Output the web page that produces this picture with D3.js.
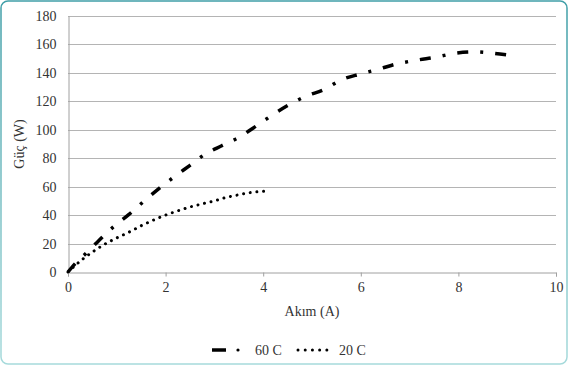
<!DOCTYPE html>
<html>
  <head>
    <meta charset="UTF-8" />
    <title>Güç - Akım</title>
    <script src="https://d3js.org/d3.v7.min.js"></script>
    <style>
      body {
        margin: 0;
        background-color: #fff;
      }
    </style>
  </head>
  <body>
    <div id="chart"></div>
    <script>
      // 60 C serisi (Akım A, Güç W)
      const akim60 = [0, 0.15, 0.35, 0.6, 0.93, 1.25, 1.54, 1.85, 2.16, 2.5, 2.81, 3.15, 3.52, 3.85, 4.19, 4.55, 4.88, 5.25, 5.59, 6.0, 6.37, 6.75, 7.15, 7.55, 7.93, 8.33, 8.72, 9.01];
      const guc60 = [0, 6, 12.5, 21, 31.7, 40.5, 49.3, 58.3, 66.5, 75, 82.8, 88.8, 95, 102.5, 110.4, 118, 123.7, 128.3, 135, 139.3, 142.7, 146.4, 149, 151.1, 153.8, 154.8, 153.8, 152.6];

      // 20 C serisi
      const akim20 = [0, 0.3, 0.5, 0.75, 1.0, 1.25, 1.5, 1.75, 2.0, 2.25, 2.5, 2.75, 3.0, 3.25, 3.5, 3.75, 4.04];
      const guc20 = [0, 9, 14, 19.5, 24, 28, 32.5, 36.5, 40, 43, 45.7, 47.9, 50, 52.5, 54.3, 55.9, 56.8];

      const xTicks = [0, 2, 4, 6, 8, 10];
      const yTicks = [0, 20, 40, 60, 80, 100, 120, 140, 160, 180];
      const seriesNames = ["60 C", "20 C"];

      const width = 568;
      const height = 365;
      const margin = { top: 16, right: 12, bottom: 93, left: 68 };
      const serif = "'Liberation Serif', monospace";

      const svg = d3
        .select("#chart")
        .append("svg")
        .attr("width", width)
        .attr("height", height);

      // kenarlık
      const grad = svg
        .append("defs")
        .append("linearGradient")
        .attr("id", "border")
        .attr("x1", 0)
        .attr("y1", 0)
        .attr("x2", 0)
        .attr("y2", 1);
      grad.append("stop").attr("offset", "0%").attr("stop-color", "#3f9ea7");
      grad.append("stop").attr("offset", "100%").attr("stop-color", "#a6dadb");

      svg
        .append("rect")
        .attr("x", 1)
        .attr("y", 1)
        .attr("width", width - 2)
        .attr("height", height - 2)
        .attr("rx", 7)
        .attr("fill", "#fff")
        .attr("stroke", "url(#border)")
        .attr("stroke-width", 1.5);

      const x = d3
        .scaleLinear()
        .domain([0, 10])
        .range([margin.left, 556]);
      const y = d3
        .scaleLinear()
        .domain([0, 180])
        .range([272, margin.top]);

      // yatay ızgara
      svg
        .append("g")
        .selectAll("line")
        .data(yTicks.filter((d) => d > 0))
        .enter()
        .append("line")
        .attr("x1", x(0))
        .attr("x2", x(10))
        .attr("y1", (d) => Math.round(y(d)) + 0.5)
        .attr("y2", (d) => Math.round(y(d)) + 0.5)
        .attr("stroke", "#b4b4b4")
        .attr("stroke-width", 1);

      // eksenler
      const xAxis = svg
        .append("g")
        .attr("transform", `translate(0,${Math.round(y(0)) + 0.5})`)
        .call(d3.axisBottom(x).tickValues(xTicks).tickSize(4).tickPadding(6));
      xAxis.select(".domain").attr("stroke", "#a0a0a0");
      xAxis.selectAll(".tick line").attr("stroke", "#a0a0a0");

      const yAxis = svg
        .append("g")
        .attr("transform", `translate(${x(0) + 0.5},0)`)
        .call(d3.axisLeft(y).tickValues(yTicks).tickSize(0).tickPadding(12));
      yAxis.select(".domain").attr("stroke", "#a0a0a0");

      // eksen başlıkları
      svg
        .append("text")
        .attr("x", 312)
        .attr("y", 316)
        .attr("text-anchor", "middle")
        .text("Akım (A)");

      svg
        .append("text")
        .attr("transform", `translate(24,${(y(0) + y(180)) / 2}) rotate(-90)`)
        .attr("text-anchor", "middle")
        .text("Güç (W)");

      // seriler
      const line = d3
        .line()
        .x((d) => x(d[0]))
        .y((d) => y(d[1]))
        .curve(d3.curveMonotoneX);

      const data60 = akim60.map((a, i) => [a, guc60[i]]);
      const data20 = akim20.map((a, i) => [a, guc20[i]]);

      svg
        .append("path")
        .datum(data20)
        .attr("d", line)
        .attr("fill", "none")
        .attr("stroke", "#000")
        .attr("stroke-width", 3)
        .attr("stroke-linecap", "round")
        .attr("stroke-dasharray", "0.01,6.7");

      svg
        .append("path")
        .datum(data60)
        .attr("d", line)
        .attr("fill", "none")
        .attr("stroke", "#000")
        .attr("stroke-width", 3.5)
        .attr("stroke-dasharray", "11,12,3,12");

      // lejant
      const legendY = 350;
      svg
        .append("line")
        .attr("x1", 212)
        .attr("x2", 226)
        .attr("y1", legendY)
        .attr("y2", legendY)
        .attr("stroke", "#000")
        .attr("stroke-width", 3.5);
      svg
        .append("circle")
        .attr("cx", 238)
        .attr("cy", legendY)
        .attr("r", 1.6)
        .attr("fill", "#000");
      svg
        .append("text")
        .attr("x", 255)
        .attr("y", legendY + 4.5)
        .text(seriesNames[0]);

      svg
        .append("line")
        .attr("x1", 298)
        .attr("x2", 334)
        .attr("y1", legendY)
        .attr("y2", legendY)
        .attr("stroke", "#000")
        .attr("stroke-width", 3)
        .attr("stroke-linecap", "round")
        .attr("stroke-dasharray", "0.01,7.2");
      svg
        .append("text")
        .attr("x", 339)
        .attr("y", legendY + 4.5)
        .text(seriesNames[1]);

      // tüm yazılar serif
      svg
        .selectAll("text")
        .style("font-family", serif)
        .style("font-size", "14px")
        .style("fill", "#333");
    </script>
  </body>
</html>
